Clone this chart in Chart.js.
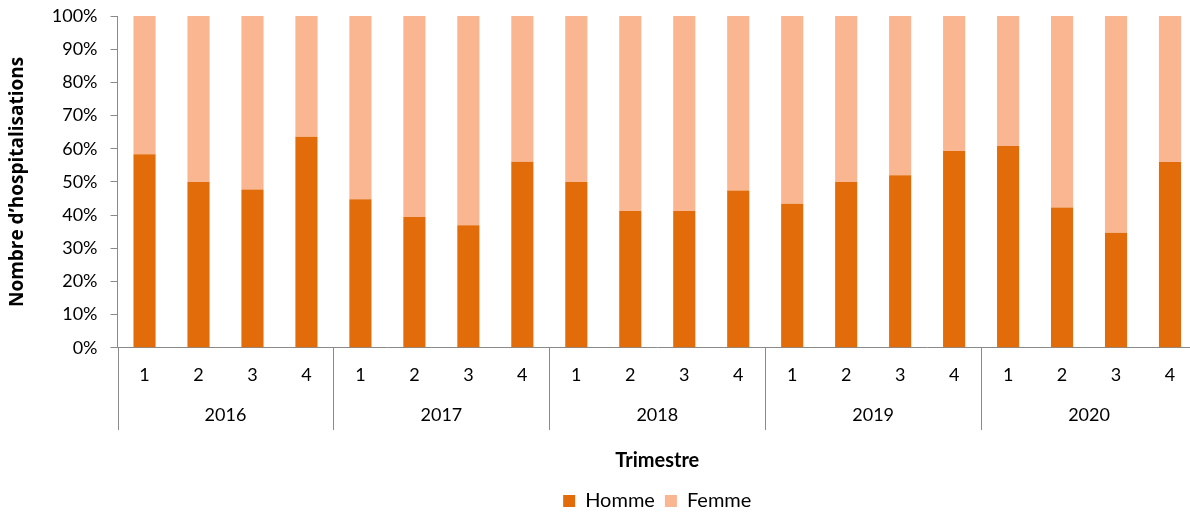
<!DOCTYPE html>
<html>
<head>
<meta charset="utf-8">
<script src="https://cdn.jsdelivr.net/npm/chart.js@4/dist/chart.umd.min.js"></script>
<style>
  html, body { margin: 0; padding: 0; background: #fff; overflow: hidden; }
  #wrap { width: 1197px; height: 512px; }
</style>
</head>
<body>
<div id="wrap"><canvas id="sexChart"></canvas></div>
<script>
const years = ['2016', '2017', '2018', '2019', '2020'];
const quarters = ['1', '2', '3', '4'];

// part des hospitalisations (%) par trimestre
const homme = [58.3, 50, 47.7, 63.6, 44.8, 39.4, 36.9, 56.1, 50, 41.2, 41.2, 47.4, 43.4, 50, 52, 59.3, 60.8, 42.3, 34.7, 56];
const femme = [41.7, 50, 52.3, 36.4, 55.2, 60.6, 63.1, 43.9, 50, 58.8, 58.8, 52.6, 56.6, 50, 48, 40.7, 39.2, 57.7, 65.3, 44];

const labels = [];
years.forEach(() => quarters.forEach(q => labels.push(q)));

const axisGrey = '#8a8a8a';
const fontFamily = 'Lato, "Open Sans", sans-serif';

// year separators, drawn from the x scale positions
const yearSeparators = {
    id: 'yearSeparators',
    afterDraw(chart) {
        const xs = chart.scales.x;
        const ys = chart.scales.year;
        const ctx = chart.ctx;
        ctx.save();
        ctx.strokeStyle = axisGrey;
        ctx.lineWidth = 1;
        for (let i = 0; i <= years.length; i++) {
            const x = Math.round(xs.getPixelForValue(i * quarters.length - 0.5)) + 0.5;
            ctx.beginPath();
            ctx.moveTo(x, chart.chartArea.bottom);
            ctx.lineTo(x, ys.bottom + 3);
            ctx.stroke();
        }
        ctx.restore();
    }
};

new Chart(document.getElementById('sexChart'), {
    type: 'bar',
    data: {
        labels: labels,
        datasets: [{
            label: 'Homme',
            data: homme,
            backgroundColor: '#E36C0A',
            barPercentage: 0.41,
            categoryPercentage: 1
        }, {
            label: 'Femme',
            data: femme,
            backgroundColor: '#F9B691',
            barPercentage: 0.41,
            categoryPercentage: 1
        }]
    },
    options: {
        responsive: true,
        maintainAspectRatio: false,
        animation: false,
        layout: { padding: { top: 16, left: 0, right: 0, bottom: -9 } },
        plugins: {
            tooltip: { enabled: false },
            legend: {
                position: 'bottom',
                fullSize: false,
                labels: {
                    boxWidth: 12,
                    boxHeight: 12,
                    padding: 10,
                    color: '#000',
                    font: { family: fontFamily, size: 20 }
                },
                title: {
                    display: true,
                    text: 'Trimestre',
                    color: '#000',
                    font: { family: fontFamily, size: 20, weight: 'bold' },
                    padding: { top: 24, bottom: 6 }
                }
            }
        },
        scales: {
            x: {
                stacked: true,
                offset: true,
                grid: { display: false, drawTicks: false },
                border: { display: true, color: axisGrey, width: 1 },
                ticks: {
                    color: '#000',
                    padding: 17,
                    maxRotation: 0,
                    autoSkip: false,
                    font: { family: fontFamily, size: 18 }
                }
            },
            year: {
                axis: 'x',
                type: 'category',
                labels: years,
                position: 'bottom',
                offset: true,
                grid: { display: false, drawTicks: false },
                border: { display: false },
                ticks: {
                    color: '#000',
                    padding: 1,
                    maxRotation: 0,
                    font: { family: fontFamily, size: 18 }
                }
            },
            y: {
                stacked: true,
                min: 0,
                max: 100,
                afterFit: s => { s.paddingTop = 0; s.paddingBottom = 0; },
                grid: { drawOnChartArea: false, drawTicks: true, tickLength: 7, color: axisGrey },
                border: { display: true, color: axisGrey, width: 1 },
                ticks: {
                    stepSize: 10,
                    padding: 13,
                    color: '#000',
                    font: { family: fontFamily, size: 18 },
                    callback: v => v + '%'
                },
                title: {
                    display: true,
                    text: 'Nombre d’hospitalisations',
                    color: '#000',
                    font: { family: '"Open Sans", Lato, sans-serif', size: 19, weight: 'bold' },
                    padding: { top: 6, bottom: 10 }
                }
            }
        }
    },
    plugins: [yearSeparators]
});
</script>
</body>
</html>
